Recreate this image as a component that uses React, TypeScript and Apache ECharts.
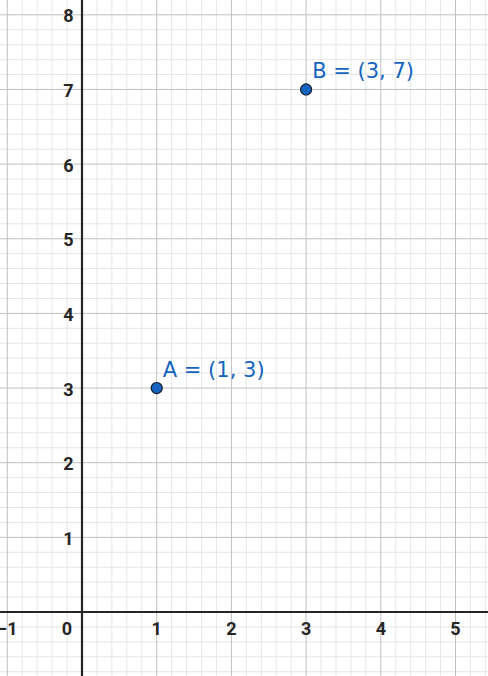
import React, { useEffect, useRef } from "react";
import * as echarts from "echarts";

// Visible window of the coordinate plane
const X_MIN = -1.0977;
const X_MAX = 5.4351;
const Y_MIN = -0.8573;
const Y_MAX = 8.1983;

// Tick labels
const xTickValues = [-1, 0, 1, 2, 3, 4, 5];
const xTickLabels = ["−1", "0", "1", "2", "3", "4", "5"];
const yTickValues = [1, 2, 3, 4, 5, 6, 7, 8];
const yTickLabels = ["1", "2", "3", "4", "5", "6", "7", "8"];

// Major grid lines
const xMajor = [-1, 0, 1, 2, 3, 4, 5];
const yMajor = [0, 1, 2, 3, 4, 5, 6, 7, 8];

// Points
const pointNames = ["A", "B"];
const pointX = [1, 3];
const pointY = [3, 7];

// Minor grid (5 subdivisions per unit)
const MINOR_STEP = 0.2;
function minorTicks(lo: number, hi: number, majors: number[]) {
  const out: number[] = [];
  const start = Math.ceil(lo / MINOR_STEP);
  const end = Math.floor(hi / MINOR_STEP);
  for (let i = start; i <= end; i++) {
    const v = Math.round(i * MINOR_STEP * 1000) / 1000;
    if (!majors.some((m) => Math.abs(m - v) < 1e-6)) out.push(v);
  }
  return out;
}
const xMinor = minorTicks(X_MIN, X_MAX, xMajor);
const yMinor = minorTicks(Y_MIN, Y_MAX, yMajor);

const MINOR_COLOR = "#e6e6e6";
const MAJOR_COLOR = "#c0c0c0";
const AXIS_COLOR = "#252525";
const POINT_COLOR = "#1565c0";

function vLineSeries(values: number[], color: string, width: number, z: number) {
  return {
    type: "custom",
    silent: true,
    z,
    data: values.map((v) => [v, 0]),
    renderItem: (params: any, api: any) => {
      const v = api.value(0);
      const p1 = api.coord([v, Y_MIN]);
      const p2 = api.coord([v, Y_MAX]);
      return {
        type: "line",
        shape: { x1: p1[0], y1: p1[1], x2: p2[0], y2: p2[1] },
        style: { stroke: color, lineWidth: width },
      };
    },
  };
}

function hLineSeries(values: number[], color: string, width: number, z: number) {
  return {
    type: "custom",
    silent: true,
    z,
    data: values.map((v) => [0, v]),
    renderItem: (params: any, api: any) => {
      const v = api.value(1);
      const p1 = api.coord([X_MIN, v]);
      const p2 = api.coord([X_MAX, v]);
      return {
        type: "line",
        shape: { x1: p1[0], y1: p1[1], x2: p2[0], y2: p2[1] },
        style: { stroke: color, lineWidth: width },
      };
    },
  };
}

const LABEL_FONT = {
  fontFamily: "Roboto, 'Noto Sans', sans-serif",
  fontSize: 18,
  fontWeight: "bold",
  fill: "#252525",
};

export default function App() {
  const ref = useRef<HTMLDivElement>(null);

  useEffect(() => {
    if (!ref.current) return;
    const chart = echarts.init(ref.current, undefined, { renderer: "svg" });

    const option: any = {
      animation: false,
      backgroundColor: "#ffffff",
      grid: { left: 0, right: 0, top: 0, bottom: 0, containLabel: false },
      xAxis: {
        type: "value",
        min: X_MIN,
        max: X_MAX,
        show: false,
        splitLine: { show: false },
      },
      yAxis: {
        type: "value",
        min: Y_MIN,
        max: Y_MAX,
        show: false,
        splitLine: { show: false },
      },
      series: [
        vLineSeries(xMinor, MINOR_COLOR, 1, 1),
        hLineSeries(yMinor, MINOR_COLOR, 1, 1),
        vLineSeries(xMajor, MAJOR_COLOR, 1, 2),
        hLineSeries(yMajor, MAJOR_COLOR, 1, 2),
        vLineSeries([0], AXIS_COLOR, 2.2, 3),
        hLineSeries([0], AXIS_COLOR, 2.2, 3),
        {
          type: "custom",
          silent: true,
          z: 4,
          data: xTickValues.map((v, i) => [v, 0, i]),
          renderItem: (params: any, api: any) => {
            const v = api.value(0);
            const idx = api.value(2);
            const p = api.coord([v, 0]);
            const dx = v === 0 ? -15 : 0;
            return {
              type: "text",
              x: p[0] + dx,
              y: p[1] + 16,
              style: {
                ...LABEL_FONT,
                text: xTickLabels[idx],
                align: "center",
                verticalAlign: "middle",
              },
            };
          },
        },
        {
          type: "custom",
          silent: true,
          z: 4,
          data: yTickValues.map((v, i) => [0, v, i]),
          renderItem: (params: any, api: any) => {
            const v = api.value(1);
            const idx = api.value(2);
            const p = api.coord([0, v]);
            return {
              type: "text",
              x: p[0] - 8.5,
              y: p[1] + 1,
              style: {
                ...LABEL_FONT,
                text: yTickLabels[idx],
                align: "right",
                verticalAlign: "middle",
              },
            };
          },
        },
        {
          type: "scatter",
          z: 5,
          symbol: "circle",
          symbolSize: 11,
          itemStyle: {
            color: POINT_COLOR,
            borderColor: "#152238",
            borderWidth: 1.2,
            opacity: 1,
          },
          label: {
            show: true,
            position: "right",
            distance: 0,
            offset: [0, -18],
            formatter: (p: any) =>
              `${p.name} = (${p.value[0]}, ${p.value[1]})`,
            color: POINT_COLOR,
            fontFamily: "'DejaVu Sans', sans-serif",
            fontSize: 21,
          },
          data: pointNames.map((n, i) => ({
            name: n,
            value: [pointX[i], pointY[i]],
          })),
        },
      ],
    };

    chart.setOption(option);
    return () => chart.dispose();
  }, []);

  return (
    <div
      ref={ref}
      style={{
        position: "absolute",
        left: 0,
        top: 0,
        width: 488,
        height: 676,
        background: "#fff",
      }}
    />
  );
}
